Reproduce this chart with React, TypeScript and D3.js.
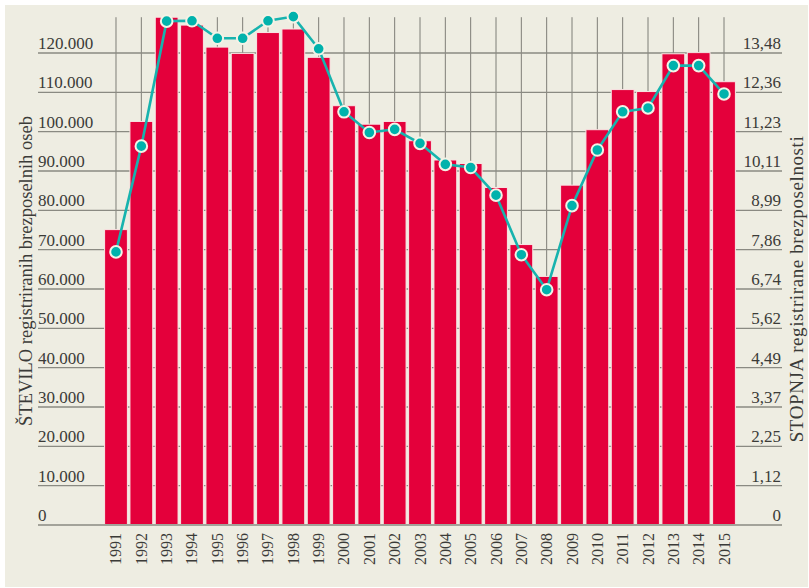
import * as d3 from 'd3'

const years = ['1991', '1992', '1993', '1994', '1995', '1996', '1997', '1998', '1999', '2000', '2001', '2002', '2003',
    '2004', '2005', '2006', '2007', '2008', '2009', '2010', '2011', '2012', '2013', '2014', '2015']
const unemployed = [75100, 102600, 129100, 127100, 121500, 119900, 125200, 126100, 118900, 106600, 101900, 102600, 97700,
    92800, 91900, 85800, 71300, 63200, 86400, 100500, 110700, 110200, 119800, 120100, 112700]
const rate = [7.80, 10.82, 14.39, 14.40, 13.90, 13.90, 14.40, 14.52, 13.60, 11.80, 11.21, 11.30, 10.90,
    10.30, 10.21, 9.42, 7.72, 6.72, 9.12, 10.71, 11.80, 11.91, 13.12, 13.12, 12.31]
const leftTicks = [0, 10000, 20000, 30000, 40000, 50000, 60000, 70000, 80000, 90000, 100000, 110000, 120000]
const rightTicks = [0, 1.12, 2.25, 3.37, 4.49, 5.62, 6.74, 7.86, 8.99, 10.11, 11.23, 12.36, 13.48]
const leftTitle = 'ŠTEVILO registriranih brezposelnih oseb'
const rightTitle = 'STOPNJA registrirane brezposelnosti'

const width = 809
const height = 588
const font = '"Liberation Serif", "Times New Roman", serif'
const textColor = '#3b3b38'

const slLocale = d3.formatLocale({ decimal: ',', thousands: '.', grouping: [3], currency: ['', ''] })
const fmtCount = slLocale.format(',')
const fmtRate = (v: number) => (v === 0 ? '0' : slLocale.format('.2f')(v))

export default function App() {
    const x = d3.scaleBand<string>().domain(years).range([103.33, 736.67]).paddingInner(0.1).paddingOuter(0.05)
    const yLeft = d3.scaleLinear().domain([0, 120000]).range([525, 53])
    const yRight = d3.scaleLinear().domain([0, 13.48]).range([525, 53])
    const cx = (d: string) => x(d)! + x.bandwidth() / 2

    const gridLeft = 38
    const gridRight = 782
    const vTop = yLeft(d3.max(unemployed)!)

    const line = d3.line<number>()
        .x((_, i) => cx(years[i]))
        .y(d => yRight(d))

    return (
        <div style={{ position: 'absolute', left: 0, top: 0 }}>
            <svg width={width} height={height} style={{ display: 'block' }}>
                <rect x={0} y={0} width={width} height={height} fill="#ffffff" />
                <rect x={5} y={5} width={803} height={582} fill="#eeede2" />

                {/* vertical grid at bar centres */}
                <g stroke="#5a5a54" strokeWidth={1} strokeOpacity={0.75}>
                    {years.map(y => (
                        <line key={y} x1={cx(y)} x2={cx(y)} y1={vTop} y2={yLeft(0)} />
                    ))}
                </g>

                {/* horizontal grid */}
                <g stroke="#8a8a82" strokeWidth={1.4}>
                    {leftTicks.map(t => (
                        <line key={t} x1={gridLeft} x2={gridRight} y1={yLeft(t)} y2={yLeft(t)} />
                    ))}
                </g>

                {/* bars */}
                <g>
                    {years.map((y, i) => (
                        <rect key={y} x={x(y)} y={yLeft(unemployed[i])} width={x.bandwidth()}
                            height={yLeft(0) - yLeft(unemployed[i])}
                            fill="#e4003b" stroke="#f8e6e4" strokeWidth={1} />
                    ))}
                </g>

                <line x1={gridLeft} x2={gridRight} y1={yLeft(0)} y2={yLeft(0)} stroke="#a3a39a" strokeWidth={2} />

                {/* left tick labels */}
                <g fontFamily={font} fontSize={17} fill={textColor}>
                    {leftTicks.map(t => (
                        <text key={t} x={gridLeft} y={yLeft(t) - 4}>{fmtCount(t)}</text>
                    ))}
                </g>

                {/* right tick labels */}
                <g fontFamily={font} fontSize={17} fill={textColor} textAnchor="end">
                    {rightTicks.map(t => (
                        <text key={t} x={gridRight - 1} y={yRight(t) - 4}>{fmtRate(t)}</text>
                    ))}
                </g>

                {/* year labels */}
                <g fontFamily={font} fontSize={16} fill={textColor} textAnchor="end">
                    {years.map(y => (
                        <text key={y} transform={`translate(${cx(y) + 5.5}, 533) rotate(-90)`}>{y}</text>
                    ))}
                </g>

                {/* axis titles */}
                <text transform="translate(32, 271) rotate(-90)" textAnchor="middle"
                    fontFamily={font} fontSize={18.5} fill={textColor}>{leftTitle}</text>
                <text transform="translate(803, 289) rotate(-90)" textAnchor="middle"
                    fontFamily={font} fontSize={19} letterSpacing={0.6} fill={textColor}>{rightTitle}</text>

                {/* rate line */}
                <path d={line(rate)!} fill="none" stroke="#17b3ae" strokeWidth={2.6} />
                <g>
                    {rate.map((r, i) => (
                        <circle key={i} cx={cx(years[i])} cy={yRight(r)} r={5.8}
                            fill="#00b2ac" stroke="#f4f2e6" strokeWidth={2} />
                    ))}
                </g>
            </svg>
        </div>
    )
}
